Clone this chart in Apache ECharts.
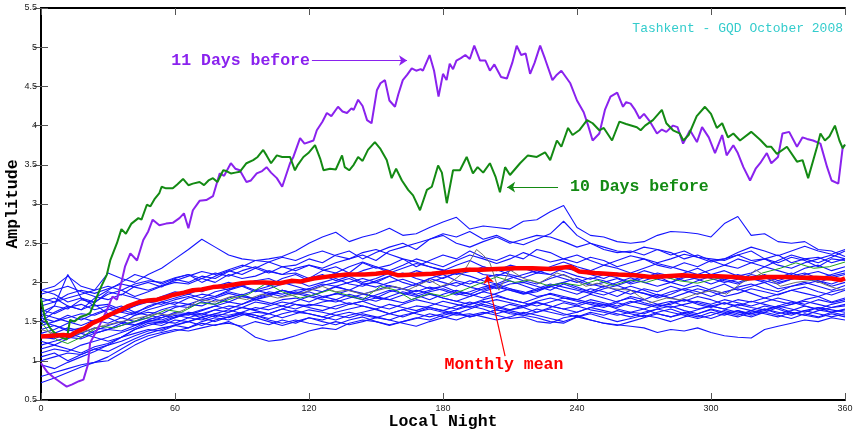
<!DOCTYPE html>
<html><head><meta charset="utf-8">
<script src="https://cdn.jsdelivr.net/npm/echarts/dist/echarts.min.js"></script>
<style>html,body{margin:0;padding:0;background:#fff}#c{width:853px;height:429px}</style>
</head><body><div id="c"></div><script>
// ---------- axes ----------
const xTicks = [0, 60, 120, 180, 240, 300, 360];
const yMin = 0.5, yMax = 5.5, yStep = 0.5;
// sample positions of the ordinary nights (every 6 units of local night)
const sampleX = Array.from({length: 61}, (_, i) => i * 6);

// ---------- ordinary nights (blue) ----------
const day01 = [1.62,1.7,1.66,1.78,1.74,1.88,1.84,1.95,2.0,1.94, 2.04,2.0,2.08,2.05,2.14,2.2,2.28,2.3,2.33,2.4, 2.5,2.58,2.64,2.52,2.58,2.62,2.69,2.6,2.62,2.7, 2.77,2.83,2.68,2.72,2.7,2.68,2.78,2.8,2.9,2.98, 2.7,2.6,2.58,2.52,2.5,2.52,2.6,2.65,2.64,2.62, 2.58,2.75,2.84,2.6,2.62,2.52,2.5,2.52,2.42,2.4, 2.33];
const day02 = [1.9,1.95,2.08,1.95,1.9,2.12,2.05,2.0,2.1,2.18, 2.3,2.42,2.55,2.45,2.35,2.3,2.28,2.26,2.2,2.22, 2.3,2.25,2.35,2.4,2.3,2.38,2.45,2.5,2.42,2.55, 2.6,2.5,2.45,2.52,2.58,2.5,2.55,2.6,2.58,2.52, 2.45,2.5,2.42,2.38,2.4,2.35,2.42,2.38,2.3,2.35, 2.28,2.3,2.35,2.28,2.3,2.35,2.25,2.3,2.32,2.25, 2.3];
const day03 = [1.5,1.62,1.7,1.65,1.8,1.9,2.0,2.1,2.05,1.98, 2.05,2.1,2.0,2.08,2.15,2.1,2.18,2.12,2.2,2.15, 2.22,2.18,2.25,2.3,2.35,2.28,2.4,2.45,2.5,2.55, 2.62,2.58,2.65,2.55,2.6,2.52,2.48,2.55,2.62,2.78, 2.6,2.5,2.45,2.4,2.38,2.45,2.42,2.35,2.4,2.32, 2.3,2.28,2.35,2.4,2.3,2.25,2.32,2.28,2.2,2.3, 2.28];
const day04 = [1.55,1.7,2.1,1.8,1.75,1.85,1.9,1.82,1.88,1.95, 2.0,1.98,2.05,2.0,2.1,2.05,2.08,2.15,2.1,2.12, 2.05,2.15,2.2,2.12,2.25,2.18,2.22,2.3,2.2,2.28, 2.35,2.3,2.4,2.32,2.28,2.35,2.3,2.42,2.38,2.3, 2.25,2.32,2.28,2.2,2.25,2.3,2.22,2.18,2.25,2.2, 2.28,2.22,2.3,2.25,2.2,2.28,2.35,2.3,2.25,2.32, 2.4];
const day05 = [1.9,1.85,1.75,1.8,1.7,1.72,1.65,1.7,1.78,1.8, 1.85,1.9,1.88,1.95,2.0,1.95,2.02,2.05,1.98,2.0, 2.05,2.1,2.02,2.08,2.0,2.05,2.12,2.08,2.15,2.1, 2.05,2.12,2.18,2.1,2.08,2.15,2.2,2.12,2.1,2.18, 2.15,2.1,2.05,2.12,2.08,2.15,2.1,2.05,2.12,2.18, 2.1,2.15,2.08,2.12,2.2,2.15,2.1,2.18,2.22,2.15, 2.2];
const day06 = [1.45,1.5,1.55,1.6,1.58,1.65,1.7,1.62,1.68,1.75, 1.72,1.8,1.85,1.82,1.9,1.95,1.88,1.92,1.98,2.02, 1.95,2.0,2.05,1.98,1.95,2.02,2.08,2.0,1.95,2.05, 2.1,2.02,1.98,2.05,2.1,2.08,2.02,1.98,2.05,2.1, 2.02,1.96,2.0,2.05,1.98,2.02,2.08,2.0,1.95,2.02, 2.08,2.02,1.98,2.05,2.1,2.02,2.08,2.12,2.05,2.1, 2.15];
const day07 = [1.3,1.35,1.42,1.38,1.5,1.55,1.48,1.58,1.62,1.6, 1.68,1.72,1.7,1.78,1.75,1.82,1.8,1.88,1.85,1.9, 1.92,1.88,1.95,1.9,1.98,2.0,1.95,1.92,1.98,2.05, 2.0,1.95,2.02,1.98,1.92,1.98,2.0,1.95,1.9,1.98, 1.92,1.88,1.95,1.9,1.85,1.92,1.88,1.95,1.9,1.85, 1.92,1.98,1.9,1.95,2.0,1.92,1.95,1.98,2.02,1.95, 2.0];
const day08 = [1.75,1.8,1.7,1.65,1.72,1.6,1.55,1.62,1.58,1.65, 1.7,1.68,1.75,1.72,1.8,1.85,1.78,1.82,1.9,1.85, 1.88,1.82,1.85,1.9,1.86,1.8,1.88,1.92,1.85,1.9, 1.95,1.88,1.85,1.92,1.96,1.9,1.85,1.88,1.95,1.9, 1.85,1.92,1.88,1.82,1.9,1.86,1.8,1.85,1.92,1.88, 1.82,1.88,1.92,1.86,1.8,1.85,1.9,1.86,1.82,1.88, 1.92];
const day09 = [1.2,1.25,1.3,1.28,1.35,1.4,1.38,1.45,1.5,1.48, 1.55,1.6,1.58,1.65,1.7,1.68,1.75,1.72,1.78,1.8, 1.75,1.82,1.78,1.85,1.8,1.76,1.82,1.88,1.84,1.78, 1.85,1.9,1.85,1.8,1.86,1.92,1.88,1.82,1.85,1.8, 1.78,1.85,1.8,1.75,1.82,1.78,1.85,1.8,1.76,1.82, 1.78,1.72,1.78,1.75,1.8,1.76,1.72,1.78,1.82,1.75, 1.8];
const day10 = [1.6,1.55,1.5,1.45,1.52,1.48,1.55,1.5,1.58,1.55, 1.62,1.6,1.65,1.7,1.66,1.72,1.78,1.74,1.7,1.76, 1.82,1.78,1.75,1.8,1.85,1.82,1.78,1.84,1.9,1.86, 1.8,1.76,1.82,1.88,1.84,1.78,1.74,1.8,1.86,1.82, 1.78,1.74,1.7,1.76,1.8,1.74,1.7,1.72,1.78,1.74, 1.7,1.66,1.72,1.68,1.65,1.7,1.66,1.62,1.68,1.65, 1.62];
const day11 = [1.1,1.15,1.12,1.2,1.25,1.3,1.36,1.42,1.5,1.55, 1.6,1.58,1.64,1.7,1.75,1.72,1.8,1.85,1.9,1.86, 1.92,1.98,1.95,2.0,2.05,2.0,2.08,2.12,2.05,2.0, 2.06,2.12,2.08,2.02,1.98,2.05,2.1,2.15,2.1,2.05, 2.0,2.06,2.02,1.96,2.02,2.08,2.04,2.0,2.06,2.1, 2.05,2.0,2.04,2.1,2.06,2.0,2.04,2.1,2.14,2.08, 2.12];
const day12 = [1.4,1.45,1.38,1.42,1.35,1.4,1.45,1.5,1.55,1.52, 1.58,1.55,1.6,1.65,1.62,1.68,1.65,1.7,1.75,1.72, 1.7,1.75,1.78,1.72,1.76,1.8,1.78,1.74,1.8,1.85, 1.8,1.76,1.72,1.78,1.82,1.78,1.74,1.7,1.75,1.8, 1.76,1.72,1.68,1.74,1.7,1.66,1.72,1.76,1.7,1.66, 1.7,1.74,1.68,1.64,1.7,1.66,1.6,1.64,1.68,1.62, 1.65];
const day13 = [1.85,1.9,1.95,1.88,1.82,1.78,1.85,1.8,1.75,1.82, 1.88,1.85,1.92,1.96,1.9,1.98,2.02,1.96,2.05,2.1, 2.02,2.06,2.12,2.08,2.15,2.2,2.12,2.18,2.24,2.2, 2.15,2.22,2.28,2.2,2.15,2.22,2.18,2.12,2.2,2.26, 2.2,2.15,2.22,2.18,2.12,2.18,2.24,2.2,2.15,2.1, 2.16,2.22,2.18,2.25,2.3,2.22,2.18,2.25,2.3,2.35, 2.3];
const day14 = [1.0,1.05,1.1,1.08,1.15,1.2,1.3,1.4,1.48,1.45, 1.52,1.5,1.56,1.6,1.58,1.62,1.68,1.65,1.7,1.66, 1.72,1.7,1.66,1.72,1.76,1.7,1.66,1.72,1.78,1.74, 1.7,1.66,1.72,1.76,1.7,1.65,1.68,1.74,1.7,1.66, 1.62,1.68,1.72,1.66,1.62,1.6,1.66,1.7,1.64,1.6, 1.66,1.62,1.58,1.64,1.6,1.56,1.62,1.58,1.55,1.6, 1.56];
const day15 = [1.35,1.4,1.48,1.55,1.5,1.6,1.65,1.6,1.7,1.75, 1.8,1.85,1.8,1.88,1.92,1.96,1.9,1.95,2.0,1.95, 1.9,1.96,2.0,2.05,1.98,1.94,2.0,2.04,1.98,1.92, 1.95,2.0,1.94,1.9,1.96,2.02,1.96,1.9,1.94,2.0, 2.05,1.98,1.94,2.0,2.06,2.0,1.95,2.0,2.08,2.04, 1.98,2.04,2.1,2.05,2.0,2.06,2.12,2.06,2.0,2.06, 2.1];
const day16 = [1.65,1.6,1.68,1.72,1.65,1.7,1.62,1.58,1.65,1.7, 1.75,1.72,1.78,1.82,1.88,1.84,1.9,1.86,1.82,1.88, 1.84,1.8,1.86,1.82,1.78,1.84,1.9,1.86,1.82,1.88, 1.92,1.86,1.82,1.88,1.94,1.9,1.86,1.92,1.98,1.94, 1.9,1.86,1.92,1.96,1.9,1.86,1.82,1.88,1.92,1.96, 1.9,1.86,1.94,1.98,1.92,1.88,1.95,2.0,1.95,1.9, 1.96];
const day17 = [0.95,0.9,0.98,1.05,1.12,1.2,1.25,1.32,1.38,1.42, 1.45,1.42,1.48,1.45,1.5,1.42,1.3,1.25,1.27,1.32, 1.38,1.42,1.4,1.48,1.52,1.5,1.46,1.5,1.55,1.52, 1.58,1.62,1.56,1.6,1.65,1.6,1.58,1.62,1.66,1.6, 1.56,1.62,1.58,1.64,1.6,1.56,1.62,1.66,1.6,1.56, 1.62,1.58,1.64,1.6,1.66,1.62,1.58,1.64,1.6,1.56, 1.6];
const day18 = [0.8,0.85,0.9,0.95,0.98,1.05,1.15,1.25,1.32,1.36, 1.4,1.38,1.42,1.46,1.48,1.44,1.5,1.46,1.52,1.48, 1.55,1.5,1.46,1.52,1.56,1.5,1.45,1.5,1.54,1.6, 1.56,1.52,1.58,1.62,1.58,1.54,1.56,1.5,1.48,1.55, 1.58,1.52,1.48,1.46,1.44,1.42,1.36,1.4,1.38,1.42, 1.36,1.32,1.3,1.29,1.4,1.44,1.48,1.52,1.5,1.55, 1.52];
const day19 = [0.72,0.78,0.85,0.92,0.98,1.0,1.1,1.2,1.28,1.34, 1.38,1.42,1.5,1.55,1.52,1.58,1.62,1.6,1.55,1.6, 1.65,1.62,1.58,1.55,1.6,1.56,1.52,1.58,1.62,1.66, 1.62,1.58,1.6,1.56,1.52,1.56,1.62,1.58,1.54,1.5, 1.56,1.6,1.55,1.5,1.54,1.58,1.55,1.5,1.56,1.6, 1.65,1.6,1.56,1.62,1.66,1.6,1.64,1.7,1.65,1.62, 1.66];
const day20 = [1.05,1.1,1.0,1.08,1.15,1.12,1.2,1.28,1.35,1.4, 1.46,1.5,1.45,1.52,1.56,1.6,1.55,1.5,1.45,1.5, 1.55,1.52,1.58,1.62,1.58,1.55,1.6,1.65,1.6,1.56, 1.6,1.65,1.7,1.66,1.6,1.65,1.7,1.75,1.7,1.66, 1.7,1.75,1.72,1.68,1.74,1.78,1.72,1.68,1.72,1.76, 1.72,1.78,1.74,1.7,1.75,1.8,1.76,1.72,1.78,1.74, 1.78];
const day21 = [1.25,1.2,1.15,1.1,1.18,1.22,1.3,1.35,1.4,1.38, 1.45,1.5,1.55,1.6,1.65,1.6,1.55,1.6,1.66,1.62, 1.6,1.56,1.62,1.66,1.7,1.65,1.6,1.65,1.7,1.68, 1.64,1.7,1.75,1.7,1.66,1.72,1.68,1.62,1.68,1.74, 1.7,1.65,1.62,1.58,1.62,1.66,1.6,1.56,1.62,1.58, 1.54,1.6,1.64,1.58,1.62,1.68,1.62,1.58,1.64,1.68, 1.72];
const day22 = [1.5,1.45,1.4,1.35,1.3,1.25,1.3,1.4,1.45,1.5, 1.48,1.55,1.52,1.58,1.55,1.6,1.58,1.52,1.48,1.52, 1.48,1.45,1.5,1.46,1.5,1.55,1.52,1.48,1.44,1.5, 1.55,1.6,1.56,1.6,1.65,1.62,1.58,1.55,1.5,1.48, 1.56,1.52,1.48,1.45,1.5,1.55,1.6,1.56,1.6,1.65, 1.7,1.66,1.62,1.6,1.64,1.7,1.75,1.7,1.66,1.72, 1.76];
const day23 = [1.7,1.75,1.8,1.85,1.9,1.95,1.9,1.98,2.02,2.0, 2.06,2.1,2.05,2.12,2.08,2.15,2.2,2.14,2.1,2.18, 2.22,2.16,2.12,2.2,2.26,2.2,2.15,2.22,2.3,2.25, 2.2,2.28,2.35,2.3,2.24,2.3,2.38,2.32,2.26,2.3, 2.35,2.28,2.22,2.28,2.34,2.3,2.25,2.3,2.36,2.32, 2.26,2.3,2.38,2.45,2.4,2.34,2.4,2.46,2.4,2.36, 2.42];
const day24 = [1.55,1.5,1.58,1.52,1.6,1.66,1.62,1.7,1.75,1.72, 1.78,1.82,1.76,1.8,1.86,1.82,1.78,1.84,1.9,1.86, 1.82,1.88,1.94,1.9,1.85,1.9,1.96,1.92,1.88,1.94, 1.9,1.84,1.88,1.94,1.98,1.92,1.86,1.9,1.96,2.0, 1.94,1.88,1.84,1.9,1.95,1.9,1.84,1.8,1.86,1.92, 1.88,1.82,1.86,1.92,1.88,1.84,1.9,1.94,1.88,1.84, 1.9];
const day25 = [1.15,1.2,1.28,1.35,1.42,1.4,1.48,1.45,1.52,1.58, 1.55,1.62,1.6,1.56,1.62,1.68,1.64,1.6,1.66,1.72, 1.68,1.64,1.7,1.74,1.7,1.66,1.72,1.68,1.64,1.7, 1.76,1.72,1.68,1.74,1.78,1.74,1.7,1.76,1.8,1.76, 1.72,1.78,1.74,1.7,1.76,1.72,1.68,1.74,1.78,1.72, 1.68,1.74,1.7,1.76,1.72,1.68,1.72,1.76,1.72,1.68, 1.7];
const day26 = [1.8,1.75,1.85,1.9,1.86,1.92,1.98,1.94,1.9,1.96, 2.02,2.08,2.14,2.1,2.16,2.22,2.18,2.26,2.32,2.28, 2.35,2.4,2.34,2.3,2.38,2.42,2.36,2.3,2.26,2.2, 2.16,2.1,2.14,2.2,2.16,2.1,2.06,2.12,2.18,2.14, 2.08,2.04,2.1,2.06,2.0,2.06,2.12,2.08,2.02,2.06, 2.1,2.04,2.0,2.06,2.02,1.98,2.04,2.08,2.02,1.98, 2.04];
const day27 = [1.3,1.28,1.35,1.3,1.38,1.45,1.5,1.46,1.52,1.5, 1.56,1.6,1.55,1.5,1.56,1.62,1.58,1.54,1.6,1.64, 1.6,1.56,1.52,1.58,1.62,1.66,1.6,1.56,1.62,1.68, 1.64,1.6,1.66,1.72,1.68,1.64,1.6,1.66,1.62,1.58, 1.62,1.68,1.64,1.6,1.56,1.62,1.66,1.62,1.58,1.54, 1.58,1.64,1.6,1.56,1.62,1.58,1.54,1.6,1.56,1.62, 1.58];
const blueDays = [day01,day02,day03,day04,day05,day06,day07,day08,day09,day10,day11,day12,day13,day14,day15,day16,day17,day18,day19,day20,day21,day22,day23,day24,day25,day26,day27];

// thin green and grey ordinary nights  [local night, amplitude]
const thinGreen = [[0,1.5],[4,1.35],[7,1.27],[12,1.22],[18,1.3],[26,1.44],[33,1.42],[41,1.5],[48,1.55],[56,1.65],[63,1.62],[71,1.74],[78,1.72],[86,1.8],[93,1.85],[101,1.99],[108,1.88],[116,1.8],[122,1.84],[129,1.9],[137,1.84],[144,1.78],[152,1.95],[159,1.9],[166,1.78],[174,1.86],[181,1.82],[189,1.9],[196,1.98],[204,2.07],[212,2.0],[219,2.03],[227,1.96],[234,1.99],[241,1.96],[249,2.03],[256,1.96],[264,2.03],[271,2.0],[279,2.07],[286,2.02],[294,1.99],[301,2.04],[308,2.07],[316,2.02],[323,2.12],[331,2.18],[338,2.25],[346,2.18],[353,2.2],[360,2.26]];
const thinGrey = [[0,1.4],[6,1.35],[12,1.3],[20,1.38],[28,1.45],[36,1.5],[44,1.55],[52,1.6],[58,1.58],[64,1.65],[71,1.78],[78,1.75],[85,1.82],[92,1.78],[99,1.85],[106,1.8],[115,1.85],[121,1.9],[126,1.95],[132,1.88],[137,1.9],[144,1.85],[151,1.9],[158,1.95],[164,1.9],[170,1.98],[174,2.03],[179,1.95],[183,1.99],[189,2.12],[195,2.42],[198,2.35],[201,2.25],[205,1.9],[210,2.16],[216,2.05],[223,1.99],[231,2.12],[238,2.05],[244,1.95],[249,1.99],[256,1.92],[264,1.9],[268,1.82],[273,1.74],[280,1.8],[286,1.78],[293,1.85],[301,1.9],[307,1.85],[314,2.0],[320,2.16],[326,2.05],[331,1.95],[338,2.0],[346,2.03],[353,1.95],[359,1.9]];

// ---------- highlighted nights ----------
const days11Before = [[0,0.97],[3,0.85],[6,0.78],[9,0.72],[11.5,0.67],[14,0.7],[17,0.74],[19,0.76],[21,0.95],[22,1.23],[26,1.44],[29.5,1.65],[32,1.82],[34,1.78],[36,2.0],[37.6,2.2],[40,2.37],[43,2.28],[45.8,2.54],[48,2.65],[50,2.8],[53,2.73],[56,2.75],[59,2.76],[62,2.82],[64,2.88],[66,2.69],[68,2.92],[71,3.04],[74,3.05],[77,3.1],[80,3.39],[82,3.36],[85,3.52],[87,3.45],[89,3.43],[92,3.28],[94,3.3],[96.6,3.39],[99,3.42],[101,3.47],[103,3.4],[105.6,3.33],[108,3.22],[111.5,3.52],[113,3.6],[116,3.84],[118,3.77],[122,3.81],[123.5,3.94],[126,4.05],[128,4.16],[130,4.12],[133,4.24],[135,4.18],[137,4.16],[139,4.22],[140,4.2],[142,4.33],[144,4.25],[146,4.07],[148,4.03],[150.4,4.45],[152,4.54],[154,4.58],[156,4.32],[158.5,4.24],[160,4.4],[162,4.58],[164,4.65],[166,4.73],[168,4.7],[170,4.72],[171,4.7],[174,4.9],[176,4.7],[178,4.37],[180,4.66],[181.6,4.58],[183,4.79],[184.5,4.72],[186,4.83],[188,4.86],[190,4.9],[192,4.85],[194,5.02],[196.6,4.83],[199,4.83],[201,4.7],[203,4.78],[206,4.62],[208.6,4.6],[211,4.8],[213,5.02],[215,4.9],[217,4.92],[219,4.66],[221,4.8],[223.5,5.02],[225.7,4.85],[229,4.58],[231,4.65],[233,4.7],[237,4.54],[240,4.32],[243,4.17],[245,4.0],[247,3.81],[250,3.9],[252.5,4.2],[255,4.37],[258,4.42],[260.6,4.24],[262,4.3],[264,4.28],[266,4.2],[268,4.09],[270,4.15],[272.7,4.05],[275.8,3.9],[278,3.95],[280,3.92],[283,4.0],[285,3.98],[287.5,3.77],[290.6,3.94],[293.7,3.79],[296,3.98],[299,3.85],[301.8,3.65],[305,3.88],[307,3.62],[310,3.75],[312,3.65],[314.5,3.47],[317.5,3.3],[320,3.45],[322,3.52],[325,3.65],[327,3.52],[330,3.6],[332,3.9],[335,3.92],[338.5,3.73],[341,3.85],[343,3.83],[345.7,3.81],[349,3.77],[352,3.47],[354,3.3],[357,3.26],[359,3.73],[360,3.75]];
const days10Before = [[0,1.8],[1,1.65],[2,1.52],[4,1.42],[6,1.36],[9,1.3],[11.5,1.27],[13,1.52],[15,1.5],[17.5,1.56],[20,1.58],[22,1.61],[24,1.75],[27,1.95],[29.5,2.1],[31,2.28],[34,2.5],[36,2.68],[38,2.62],[40.5,2.75],[43.6,2.82],[45,2.8],[47.4,2.99],[49,2.97],[51,3.07],[53,3.14],[54,3.22],[56,3.2],[59,3.2],[61,3.25],[63.6,3.32],[66,3.24],[68,3.26],[71,3.28],[73,3.24],[75,3.3],[77,3.33],[79,3.28],[81.6,3.43],[83,3.42],[85,3.39],[87,3.4],[89,3.41],[92,3.52],[95,3.56],[97,3.6],[99.5,3.69],[101,3.62],[103,3.52],[105.6,3.62],[108,3.6],[111.5,3.6],[113.7,3.43],[115,3.5],[117.5,3.6],[119.7,3.65],[122.7,3.75],[125,3.58],[126.5,3.43],[129.4,3.45],[132,3.44],[134.8,3.62],[136,3.47],[138,3.43],[140,3.5],[142,3.6],[144,3.55],[146.4,3.69],[149.5,3.79],[151.8,3.71],[154.8,3.56],[157,3.33],[159,3.45],[161.6,3.3],[164.4,3.18],[166.6,3.11],[169.7,2.92],[172.8,3.18],[175,3.22],[177.8,3.49],[179.5,3.4],[181.7,3.01],[184.5,3.43],[187.6,3.43],[190.6,3.6],[193.4,3.39],[195.5,3.47],[198,3.4],[201,3.52],[203.5,3.35],[205.5,3.15],[207.8,3.47],[210,3.37],[214.5,3.52],[218,3.62],[222,3.6],[225.7,3.66],[228,3.56],[231,3.81],[233,3.73],[236,3.97],[238,3.88],[241,3.94],[244.5,4.07],[247,4.03],[250,3.94],[252,3.97],[255.7,3.81],[259,4.05],[262,4.02],[266.8,3.98],[268.5,3.94],[270.5,4.0],[274,4.07],[278,4.2],[280,4.03],[283,3.94],[286,3.9],[287.6,3.81],[290,3.88],[293.6,4.12],[297.3,4.24],[300,4.15],[302.6,3.97],[305,4.03],[307.6,3.85],[310,3.9],[313,3.81],[318,3.92],[322,3.82],[325,3.73],[327,3.73],[329.5,3.64],[334,3.73],[338.5,3.54],[341,3.56],[343.5,3.33],[347.5,3.73],[349,3.9],[351,3.81],[353,3.86],[355.5,4.0],[357.5,3.81],[359,3.71],[360,3.76]];
const monthlyMean = [[0,1.31],[5,1.32],[10,1.33],[13,1.32],[16,1.37],[20,1.42],[23,1.48],[27,1.53],[31,1.59],[35,1.64],[38.5,1.69],[44,1.75],[48,1.77],[52,1.78],[56,1.81],[59,1.84],[64,1.87],[68,1.9],[72,1.91],[77,1.94],[82,1.95],[86,1.97],[90,1.99],[94,2.0],[100,2.0],[107,1.99],[112,2.02],[116,2.01],[122,2.05],[130,2.08],[137,2.1],[145,2.1],[150,2.11],[155,2.13],[160,2.09],[168,2.1],[175,2.11],[182,2.13],[190,2.16],[197,2.16],[204,2.17],[212,2.18],[220,2.18],[228,2.17],[234,2.19],[237,2.2],[241,2.14],[248,2.12],[258,2.1],[266,2.09],[273,2.07],[280,2.08],[287,2.09],[295,2.08],[303,2.08],[310,2.07],[317,2.05],[325,2.07],[333,2.07],[340,2.06],[347,2.06],[354,2.05],[358,2.03],[360,2.05]];

// ---------- annotations (data coordinates) ----------
const note11 = {text: '11 Days before', at: [120.4, 4.83], from: [121.3, 4.83], to: [163.9, 4.83]};
const note10 = {text: '10 Days before', at: [236.9, 3.215], from: [231.5, 3.215], to: [208.7, 3.215]};
const noteMean = {text: 'Monthly mean', at: [207.3, 0.95], from: [207.8, 1.06], to: [199.7, 2.09]};
const titleText = 'Tashkent - GQD October 2008';

// ---------- colours ----------
const cBlue = '#1414ff', cPurple = '#8a22ee', cGreen = '#138a13', cRed = '#ff0000';
const mono = '"Liberation Mono", "DejaVu Sans Mono", monospace';

function zip(xs, ys) { return ys.map((v, i) => [xs[i], v]); }

function note(n, color, align) {
  return {
    markLine: {
      silent: true, animation: false,
      symbol: ['none', 'arrow'], symbolSize: 8,
      lineStyle: {color: color, width: 1.2, type: 'solid'},
      label: {show: false},
      emphasis: {disabled: true},
      data: [[{coord: n.from}, {coord: n.to}]]
    },
    markPoint: {
      silent: true, animation: false,
      symbol: 'circle', symbolSize: 0,
      label: {show: true, position: [0, 0], align: align, verticalAlign: 'middle',
        formatter: n.text, color: color, fontFamily: mono, fontWeight: 'bold', fontSize: 16.5},
      data: [{coord: n.at}]
    }
  };
}

const series = [];
blueDays.forEach(d => series.push({
  type: 'line', data: zip(sampleX, d), showSymbol: false, silent: true,
  lineStyle: {color: cBlue, width: 1.1}, z: 2
}));
series.push({type: 'line', data: thinGreen, showSymbol: false, silent: true, lineStyle: {color: '#22a022', width: 1}, z: 3});
series.push({type: 'line', data: thinGrey, showSymbol: false, silent: true, lineStyle: {color: '#707070', width: 1}, z: 3});
series.push(Object.assign({type: 'line', data: days11Before, showSymbol: false, silent: true, lineStyle: {color: cPurple, width: 2}, z: 4}, note(note11, cPurple, 'right')));
series.push(Object.assign({type: 'line', data: days10Before, showSymbol: false, silent: true, lineStyle: {color: cGreen, width: 2}, z: 4}, note(note10, cGreen, 'left')));
series.push(Object.assign({type: 'line', data: monthlyMean, showSymbol: false, silent: true, lineStyle: {color: cRed, width: 4.5}, z: 5}, note(noteMean, cRed, 'center')));

const xBase = {type: 'value', min: xTicks[0], max: xTicks[xTicks.length - 1], interval: xTicks[1] - xTicks[0], splitLine: {show: false}};
const yBase = {type: 'value', min: yMin, max: yMax, interval: yStep, splitLine: {show: false}};
const tickStyle = {show: true, inside: true, length: 7, lineStyle: {color: '#555', width: 1}};
const lineStyle = {show: true, lineStyle: {color: '#000', width: 2}};

const chart = echarts.init(document.getElementById('c'), null, {renderer: 'canvas'});
chart.setOption({
  animation: false,
  backgroundColor: '#fff',
  title: {text: titleText, right: 5, top: 17, textStyle: {color: '#33cccc', fontFamily: mono, fontWeight: 'normal', fontSize: 13}},
  grid: {left: 41, right: 8, top: 8, bottom: 29, show: false, containLabel: false, outerBoundsMode: 'none'},
  xAxis: [
    Object.assign({}, xBase, {position: 'bottom', axisLine: lineStyle, axisTick: tickStyle,
      axisLabel: {color: '#222', fontSize: 9, margin: 4, fontFamily: '"Liberation Sans", Arial, sans-serif'},
      name: 'Local Night', nameLocation: 'middle', nameGap: 13, nameMoveOverlap: false,
      nameTextStyle: {color: '#000', fontFamily: mono, fontWeight: 'bold', fontSize: 16.5}}),
    Object.assign({}, xBase, {position: 'top', axisLine: lineStyle, axisTick: tickStyle, axisLabel: {show: false}})
  ],
  yAxis: [
    Object.assign({}, yBase, {position: 'left', axisLine: lineStyle, axisTick: tickStyle,
      axisLabel: {color: '#222', fontSize: 9, margin: 4, fontFamily: '"Liberation Sans", Arial, sans-serif'},
      name: 'Amplitude', nameLocation: 'middle', nameGap: 20, nameMoveOverlap: false,
      nameTextStyle: {color: '#000', fontFamily: mono, fontWeight: 'bold', fontSize: 16.5}}),
    Object.assign({}, yBase, {position: 'right', axisLine: lineStyle, axisTick: tickStyle, axisLabel: {show: false}})
  ],
  series: series
});
</script></body></html>
